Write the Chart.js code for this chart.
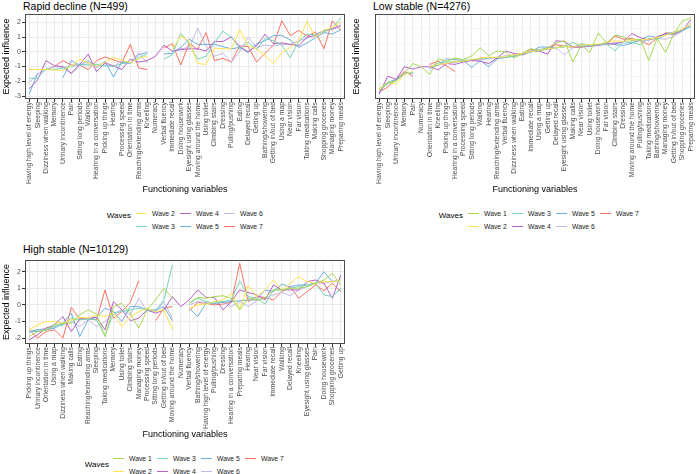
<!DOCTYPE html>
<html><head><meta charset="utf-8">
<script src="https://cdn.jsdelivr.net/npm/chart.js@4/dist/chart.umd.min.js"></script>
<style>
html,body{margin:0;padding:0;background:#fff}
body{width:700px;height:474px;position:relative;overflow:hidden;font-family:"Liberation Sans",Arial,Helvetica,sans-serif}
canvas{position:absolute}
.ttl{position:absolute;font-size:10.5px;line-height:12px;color:#000;white-space:nowrap}
.lgt{position:absolute;font-size:8px;line-height:10px;color:#000;text-align:right;width:40px;white-space:nowrap}
.lgk{position:absolute;width:11px;height:1px}
.lgx{position:absolute;font-size:6.8px;line-height:10px;color:#1a1a1a;white-space:nowrap}
</style></head><body>
<div class="ttl" style="left:23px;top:0px">Rapid decline (N=499)</div>
<div class="ttl" style="left:373px;top:0px">Low stable (N=4276)</div>
<div class="ttl" style="left:23px;top:243px">High stable (N=10129)</div>
<canvas id="c1" width="350" height="195" style="left:0;top:0"></canvas>
<canvas id="c2" width="350" height="195" style="left:350px;top:0"></canvas>
<canvas id="c3" width="350" height="194" style="left:0;top:246px"></canvas>
<script>
const FONT = "'Liberation Sans', Arial, Helvetica, sans-serif";

const WAVE_COLORS = {
  'Wave 1': '#A6D854',
  'Wave 2': '#FFE34D',
  'Wave 3': '#76D3BA',
  'Wave 4': '#B561C6',
  'Wave 5': '#6CAEDB',
  'Wave 6': '#C4B9E6',
  'Wave 7': '#FB6F60'
};

// ---------- Rapid decline ----------
const catsRD = ['Having high level of energy','Sleeping','Dizziness when walking','Memory','Urinary incontinence','Pain','Sitting long periods','Walking','Hearing in a conversation','Picking up things','Hearing','Processing speed','Orientation in time','Reaching/extending arms','Kneeling','Numeracy','Verbal fluency','Immediate recall','Doing housework','Eyesight using glasses','Moving around the home','Using toilet','Climbing stairs','Dressing','Pulling/pushing','Eating','Delayed recall','Getting up','Bathing/showering','Getting in/out of bed','Using a map','Near vision','Far vision','Taking medications','Making calls','Shopping groceries','Managing money','Preparing meals'];
const rdW2 = [-1.2,-1.2,-1.2,-1.25,-1.25,-0.95,-0.5,-0.75,-1.0,-0.7,-0.4,-0.55,-0.75,-0.45,-0.3,null,null,0.15,1.1,0.7,-0.8,-0.85,0.25,0.2,0.2,1.5,0.4,0.2,-0.25,-0.8,-0.05,0.3,0.75,2.05,1.0,1.45,1.65,2.0];
const rdW3 = [-1.8,-1.8,-1.15,-1.2,-1.1,-1.0,-0.85,-0.9,-0.85,-0.95,-1.0,-0.8,-0.75,-0.4,-0.15,null,-0.5,-0.2,1.25,0.55,-0.5,-0.3,0.6,1.4,1.0,0.2,0.65,0.15,0.9,0.75,0.45,-0.4,0.7,1.2,1.15,1.35,1.6,2.3];
const rdW4 = [-2.5,-1.9,-0.6,-0.95,-1.0,-1.45,-0.85,-0.15,-1.35,-0.75,-0.95,-1.2,-0.5,-0.7,-0.6,-0.3,0.45,0.05,0.15,0.2,0.2,0.05,0.7,0.7,1.0,0.35,0.0,0.4,1.2,0.55,0.6,0.5,0.4,1.0,1.1,1.45,1.55,1.8];
const rdW5 = [-2.85,-1.45,null,null,-1.75,-0.6,-0.9,-0.6,-1.05,-0.65,-1.7,-0.7,-0.8,-0.2,-0.05,null,-0.15,-0.1,0.3,0.85,0.5,0.5,0.5,0.35,0.2,0.3,-0.05,0.55,0.75,1.1,1.1,0.8,0.3,0.6,0.95,1.3,1.2,1.5];
const rdW6 = [-2.1,-1.5,-1.2,-1.0,-1.05,-1.5,-0.95,-0.8,-1.0,-0.9,-1.0,-0.6,-0.75,-0.05,-0.75,null,null,0.0,0.2,0.3,1.6,0.4,-0.3,-0.1,-0.7,0.0,1.0,0.3,0.45,0.4,0.5,0.5,0.75,0.9,1.2,1.4,1.5,1.7];
const rdW7 = [-1.2,-1.2,-1.2,-1.0,-0.6,-0.9,-0.9,-1.2,-0.6,-0.35,-0.55,-0.75,0.5,-1.1,-1.2,null,0.25,0.55,-0.9,0.6,0.15,1.3,-0.6,-0.45,-0.7,0.4,0.35,-0.7,-0.1,0.45,2.1,1.1,1.45,1.05,1.35,0.2,2.1,1.45];
const yTicksRD = [-3,-2.5,-2,-1.5,-1,-0.5,0,0.5,1,1.5,2,2.5];

// ---------- Low stable ----------
const catsLS = ['Having high level of energy','Sleeping','Urinary incontinence','Memory','Pain','Numeracy','Orientation in time','Kneeling','Picking up things','Hearing in a conversation','Processing speed','Sitting long periods','Walking','Hearing','Reaching/extending arms','Verbal fluency','Dizziness when walking','Eating','Immediate recall','Using a map','Getting up','Delayed recall','Eyesight using glasses','Making calls','Near vision','Using toilet','Doing housework','Far vision','Climbing stairs','Dressing','Moving around the home','Pulling/pushing','Taking medications','Bathing/showering','Managing money','Getting in/out of bed','Shopping groceries','Preparing meals'];
const lsW1 = [-2.3,-1.9,-1.8,-1.3,-0.7,-0.9,-1.4,-0.4,-0.55,-0.35,-0.45,-0.2,0.3,-0.2,0.1,0.05,-0.35,-0.1,0.25,0.1,0.3,0.6,0.75,-0.6,0.5,0.0,1.25,0.6,1.1,1.0,0.75,0.85,-0.5,0.9,0.0,1.2,2.0,2.2];
const lsW2 = [-2.4,-1.9,-2.0,-1.4,-1.2,null,-0.9,-0.75,-0.7,-0.55,-0.55,-0.45,-0.35,-0.3,-0.3,-0.25,-0.15,-0.05,0.05,0.15,0.25,0.3,0.4,0.35,0.5,0.5,0.55,0.65,0.75,0.7,0.85,0.8,0.85,0.95,1.1,1.3,1.5,1.85];
const lsW3 = [-2.4,-2.0,-1.8,-1.3,-1.3,null,-0.95,-0.65,-0.6,-0.6,-0.5,-0.45,-0.4,-0.35,-0.3,-0.3,-0.2,-0.05,0.0,0.2,0.25,0.3,0.35,0.65,0.4,0.45,0.5,0.55,0.1,0.7,0.65,0.5,0.9,0.85,1.1,1.25,1.4,1.7];
const lsW4 = [-2.65,-1.5,-1.7,-0.9,-1.05,-0.9,-0.9,-1.1,-0.7,-0.75,-0.6,-0.5,-0.55,-0.7,-0.35,0.1,-0.05,-0.15,0.05,0.1,-0.1,0.75,0.7,0.35,0.35,0.4,0.45,0.55,0.55,0.7,1.2,0.95,0.8,1.0,1.2,1.15,1.4,2.1];
const lsW5 = [-2.55,-1.9,-1.7,-1.3,-1.3,null,-1.0,-0.8,-0.4,-0.45,-0.5,-0.95,-0.5,-0.9,-0.4,-0.3,-0.25,-0.05,0.05,0.35,0.35,0.3,0.4,0.35,0.55,0.5,0.5,0.65,0.5,0.45,0.6,0.8,1.05,0.95,1.2,1.3,1.4,1.65];
const lsW6 = [-2.5,-1.95,-1.8,-1.35,-1.3,null,-0.85,-0.8,-0.7,-0.6,-0.55,-0.5,-0.45,-0.4,-0.3,-0.2,-0.15,-0.1,0.1,0.15,0.2,0.3,-0.15,0.3,0.4,0.45,0.5,0.5,0.65,0.6,0.65,0.75,0.8,0.9,0.85,1.05,1.35,1.9];
const lsW7 = [-2.5,-2.2,-1.7,-1.2,-1.5,null,-0.75,-0.55,-0.85,-1.2,null,-0.55,-0.35,-0.3,-0.35,-0.3,-0.15,-0.05,0.2,0.15,0.3,0.5,0.4,0.35,0.35,0.45,0.5,0.55,1.05,0.85,0.9,0.75,0.5,0.9,1.25,1.2,1.45,1.7];
const yTicksLS = [-2.5,-2,-1.5,-1,-0.5,0,0.5,1,1.5,2];

// ---------- High stable ----------
const catsHS = ['Picking up things','Urinary incontinence','Orientation in time','Using a map','Dizziness when walking','Making calls','Eating','Reaching/extending arms','Sleeping','Taking medications','Memory','Using toilet','Climbing stairs','Managing money','Processing speed','Sitting long periods','Getting in/out of bed','Moving around the home','Numeracy','Verbal fluency','Bathing/showering','Having high level of energy','Pulling/pushing','Dressing','Hearing in a conversation','Preparing meals','Hearing','Near vision','Far vision','Immediate recall','Walking','Delayed recall','Kneeling','Eyesight using glasses','Pain','Doing housework','Shopping groceries','Getting up'];
const hsW1 = [-1.9,-1.6,-1.5,-1.2,-1.1,-1.1,-0.6,-0.3,-0.55,-1.9,-0.1,0.1,-0.5,-1.4,-0.3,0.3,1.0,0.4,null,0.1,0.45,0.4,0.5,0.55,0.4,-0.3,0.4,0.3,0.4,0.9,0.9,1.0,1.0,1.1,1.3,1.5,1.9,1.2];
const hsW2 = [-1.5,-1.2,-1.0,-1.0,-1.1,-0.9,-0.75,-0.8,-0.6,-0.7,-0.5,-1.3,-0.7,-0.4,-0.2,-0.4,-0.3,-1.5,null,-0.2,0.0,0.05,0.2,0.3,0.7,-0.25,1.2,0.5,0.9,1.5,0.9,1.3,1.7,1.4,1.3,1.4,1.4,1.5];
const hsW3 = [-1.6,-1.6,-1.5,-1.3,-1.2,-0.8,-0.9,-0.85,-0.9,-1.85,-0.5,-0.4,-0.3,-0.2,-0.3,-0.35,0.3,2.4,null,0.1,0.4,0.2,0.1,0.2,0.3,1.45,0.5,0.4,0.05,0.9,0.9,1.0,1.1,1.2,1.3,0.6,0.5,1.0];
const hsW4 = [-2.1,-1.8,-1.4,-1.2,-0.7,-1.6,-0.85,-0.8,-0.75,-1.5,0.2,-0.3,-0.95,-0.8,-0.3,-0.5,-0.3,0.5,-0.1,0.3,0.9,0.45,0.45,-0.3,0.2,0.9,0.75,0.6,0.3,1.2,0.9,0.9,0.9,1.4,1.5,1.3,0.4,1.8];
const hsW5 = [-1.6,-1.5,-1.5,-1.4,-1.1,-0.5,-1.9,-0.9,-0.75,-0.2,-0.4,-1.0,-0.1,-0.1,-0.3,-0.3,-0.1,-0.95,null,-0.2,-0.7,0.1,0.1,0.15,0.2,0.25,0.3,0.3,0.9,0.8,1.25,1.1,1.2,1.2,1.3,2.0,1.4,1.5];
const hsW6 = [-1.7,-1.5,-1.4,-1.3,-1.2,-1.0,-1.3,-0.9,-1.3,-1.0,-0.5,-0.3,-0.6,0.4,-0.35,-0.4,0.2,-0.8,null,0.0,0.2,0.15,0.1,0.2,-0.1,0.2,-0.1,0.25,0.4,0.6,0.75,0.55,0.9,1.1,1.3,1.3,1.4,1.5];
const hsW7 = [-1.5,-2.0,-1.6,-1.5,-2.0,-0.15,-0.85,-0.85,-0.9,0.9,-0.8,-0.4,0.15,1.45,null,-0.95,-0.2,-0.1,null,-0.35,0.15,0.1,0.0,0.05,0.15,2.5,0.2,0.5,0.45,0.3,0.8,1.1,0.4,0.8,1.2,0.85,1.3,0.8];
const yTicksHS = [-2,-1.5,-1,-0.5,0,0.5,1,1.5,2,2.5];

const framePlugin = {
  id: 'frame',
  afterDatasetsDraw(chart) {
    const {ctx, chartArea: a} = chart;
    ctx.save();
    ctx.strokeStyle = '#4a4a4a';
    ctx.lineWidth = 1;
    ctx.strokeRect(Math.round(a.left) + 0.5, Math.round(a.top) + 0.5, Math.round(a.right - a.left) - 1, Math.round(a.bottom - a.top) - 1);
    ctx.restore();
  }
};

function makeChart(id, cats, series, yMin, yMax, yTicks, xAxisH) {
  const datasets = series.map(([name, vals]) => ({
    label: name, data: vals, borderColor: WAVE_COLORS[name], backgroundColor: WAVE_COLORS[name],
    borderWidth: 1, pointRadius: 0, pointHoverRadius: 0, tension: 0, spanGaps: false, fill: false
  }));
  const isMajor = v => Math.abs(v - Math.round(v)) < 1e-9;
  return new Chart(document.getElementById(id), {
    type: 'line',
    data: {labels: cats, datasets},
    options: {
      responsive: false, animation: false, devicePixelRatio: 1,
      layout: {padding: {top: 14, right: 5, left: 0, bottom: 0}},
      plugins: {legend: {display: false}, tooltip: {enabled: false}, title: {display: false}},
      scales: {
        x: {
          type: 'category', offset: true,
          grid: {offset: false, color: '#EBEBEB', lineWidth: 1, drawTicks: true, tickLength: 3, tickColor: '#333333', tickWidth: 1},
          border: {display: false},
          ticks: {autoSkip: false, maxRotation: 90, minRotation: 90, padding: 0, color: '#4D4D4D', font: {size: 6.8, family: FONT}},
          title: {display: true, text: 'Functioning variables', color: '#000', font: {size: 9, family: FONT}, padding: 0},
          afterFit: s => { s.height = xAxisH; s.paddingLeft = 0; s.paddingRight = 0; }
        },
        y: {
          type: 'linear', min: yMin, max: yMax,
          afterBuildTicks: a => { a.ticks = yTicks.map(v => ({value: v})); },
          grid: {
            color: c => (c.tick && isMajor(c.tick.value)) ? '#EBEBEB' : '#F5F5F5',
            lineWidth: 1, drawTicks: true, tickLength: 3, tickWidth: 1,
            tickColor: c => (c.tick && isMajor(c.tick.value)) ? '#333333' : 'rgba(0,0,0,0)'
          },
          border: {display: false},
          ticks: {color: '#4D4D4D', padding: 1, font: {size: 7, family: FONT},
            callback: v => isMajor(v) ? String(Math.round(v)) : ''},
          title: {display: true, text: 'Expected influence', color: '#000', font: {size: 9, family: FONT}, padding: {top: 1, bottom: 0}},
          afterFit: s => { s.width = 25; s.paddingTop = 0; s.paddingBottom = 0; }
        }
      }
    },
    plugins: [framePlugin]
  });
}

makeChart('c1', catsRD, [['Wave 2', rdW2], ['Wave 3', rdW3], ['Wave 4', rdW4], ['Wave 5', rdW5], ['Wave 6', rdW6], ['Wave 7', rdW7]], -3.2, 2.56, yTicksRD, 96);
makeChart('c2', catsLS, [['Wave 1', lsW1], ['Wave 2', lsW2], ['Wave 3', lsW3], ['Wave 4', lsW4], ['Wave 5', lsW5], ['Wave 6', lsW6], ['Wave 7', lsW7]], -2.95, 2.45, yTicksLS, 96);
makeChart('c3', catsHS, [['Wave 1', hsW1], ['Wave 2', hsW2], ['Wave 3', hsW3], ['Wave 4', hsW4], ['Wave 5', hsW5], ['Wave 6', hsW6], ['Wave 7', hsW7]], -2.35, 2.7, yTicksHS, 96);

function legend(waves, titleRight, titleCY, keyStart, row1, row2) {
  const t = document.createElement('div');
  t.className = 'lgt'; t.textContent = 'Waves';
  t.style.left = (titleRight - 40) + 'px'; t.style.top = (titleCY - 5) + 'px';
  document.body.appendChild(t);
  waves.forEach((w, k) => {
    const col = Math.floor(k / 2), row = k % 2;
    const x = keyStart + col * 44, y = row ? row2 : row1;
    const key = document.createElement('div');
    key.className = 'lgk'; key.style.background = WAVE_COLORS[w];
    key.style.left = x + 'px'; key.style.top = Math.round(y) + 'px';
    document.body.appendChild(key);
    const tx = document.createElement('div');
    tx.className = 'lgx'; tx.textContent = w;
    tx.style.left = (x + 16) + 'px'; tx.style.top = (y - 4.5) + 'px';
    document.body.appendChild(tx);
  });
}
legend(['Wave 2','Wave 3','Wave 4','Wave 5','Wave 6','Wave 7'], 131, 216, 136, 213, 226);
legend(['Wave 1','Wave 2','Wave 3','Wave 4','Wave 5','Wave 6','Wave 7'], 463, 216, 468, 213, 226);
legend(['Wave 1','Wave 2','Wave 3','Wave 4','Wave 5','Wave 6','Wave 7'], 109, 465, 113, 458, 471);
</script>
</body></html>
